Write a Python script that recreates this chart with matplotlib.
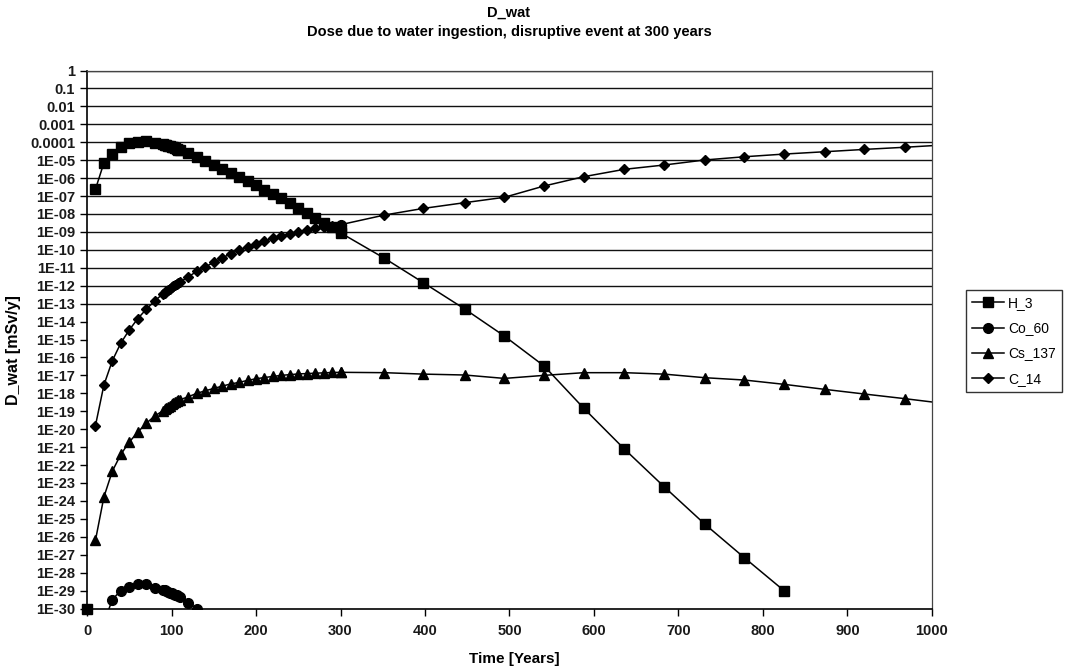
import numpy as np
import matplotlib
matplotlib.use("Agg")
import matplotlib.pyplot as plt
from matplotlib.lines import Line2D

plt.rcParams['font.family'] = ['Liberation Sans', 'DejaVu Sans']

# ---------------- data (dose values as log10 of mSv/y) ----------------
NaN = np.nan
# time points [years]; 300 appears twice (before / after the disruptive event)
time = [0, 10, 20, 30, 40, 50, 60, 70, 80,
        90, 92, 94, 96, 98, 100, 102, 104, 106, 108, 110,
        120, 130, 140, 150, 160, 170, 180, 190, 200, 210, 220, 230, 240, 250,
        260, 270, 280, 290, 300,
        300, 352, 398, 447, 494, 541, 588, 636, 683, 731, 778, 825, 873, 920, 968, 1015]

h3_log = [-30, -6.62, -5.15, -4.63, -4.26, -4.06, -3.97, -3.93, -4.02,
          -4.10, -4.13, -4.16, -4.19, -4.22, -4.26, -4.29, -4.33, -4.37, -4.41, -4.45,
          -4.62, -4.84, -5.06, -5.27, -5.48, -5.70, -5.92, -6.15, -6.40, -6.64, -6.87, -7.12, -7.40, -7.66,
          -7.92, -8.20, -8.48, -8.70, -8.85,
          -9.05, -10.47, -11.83, -13.30, -14.81, -16.48, -18.84, -21.11, -23.21, -25.29, -27.17, -29.01, NaN, NaN, NaN, NaN]

co60_log = [NaN, NaN, -30.8, -29.5, -29.0, -28.8, -28.65, -28.65, -28.85,
            -28.95, -28.99, -29.03, -29.07, -29.11, -29.15, -29.19, -29.23, -29.27, -29.31, -29.36,
            -29.68, -30.0, -30.6, NaN, NaN, NaN, NaN, NaN, NaN, NaN, NaN, NaN, NaN, NaN,
            NaN, NaN, NaN, NaN, -8.62,
            NaN, NaN, NaN, NaN, NaN, NaN, NaN, NaN, NaN, NaN, NaN, NaN, NaN, NaN, NaN, NaN]

cs137_log = [NaN, -26.2, -23.78, -22.34, -21.41, -20.72, -20.17, -19.68, -19.27,
             -18.97, -18.90, -18.83, -18.76, -18.69, -18.62, -18.56, -18.50, -18.45, -18.40, -18.36,
             -18.19, -18.00, -17.86, -17.73, -17.60, -17.48, -17.39, -17.28, -17.19, -17.12, -17.06, -17.00, -16.96, -16.92,
             -16.90, -16.88, -16.86, -16.84, -16.83,
             -16.83, -16.85, -16.93, -16.98, -17.17, -17.00, -16.85, -16.85, -16.93, -17.13, -17.26, -17.50, -17.78, -18.04, -18.30, -18.57]

c14_log = [NaN, -19.8, -17.54, -16.18, -15.20, -14.47, -13.84, -13.32, -12.85,
           -12.45, -12.38, -12.31, -12.24, -12.17, -12.10, -12.04, -11.98, -11.92, -11.86, -11.80,
           -11.50, -11.20, -10.95, -10.70, -10.45, -10.22, -10.00, -9.83, -9.68, -9.51, -9.36, -9.25, -9.12, -8.99,
           -8.88, -8.80, -8.72, -8.66, -8.62,
           -8.60, -8.06, -7.69, -7.37, -7.07, -6.44, -5.92, -5.51, -5.27, -4.99, -4.81, -4.66, -4.53, -4.40, -4.28, -4.15]

series_names = ["H_3", "Co_60", "Cs_137", "C_14"]
x_ticks = list(range(0, 1001, 100))
y_exponents = list(range(0, -31, -1))
grid_exponents = list(range(0, -14, -1))

# ---------------- figure ----------------
W, H = 1067, 670
fig = plt.figure(figsize=(W / 100, H / 100), dpi=100)
ax = fig.add_axes([87 / W, 1 - 608.5 / H, (932 - 87) / W, (608.5 - 70.5) / H])

t = np.array(time, dtype=float)
styles = [dict(marker='s', ms=7), dict(marker='o', ms=7),
          dict(marker='^', ms=7), dict(marker='D', ms=4.8)]
data = [h3_log, co60_log, cs137_log, c14_log]

for name, vals, st in zip(series_names, data, styles):
    v = 10.0 ** np.array(vals, dtype=float)
    if name == "H_3":
        # value at t=0 is plotted at the axis floor without a connecting line
        ax.plot(t[:1], v[:1], linestyle='none', color='black', clip_on=False, **st)
        ax.plot(t[1:], v[1:], color='black', lw=1.1, **st)
    else:
        ax.plot(t, v, color='black', lw=1.1, **st)

for e in grid_exponents:
    ax.axhline(10.0 ** e, color='#111111', lw=1.0, zorder=0.5)

ax.set_yscale('log')
ax.set_ylim(1e-30, 1)
ax.set_xlim(0, 1000)
ax.set_xticks(x_ticks)
ax.set_xticklabels([str(v) for v in x_ticks])


def fmt(e):
    if e >= -4:
        return "1" if e == 0 else "0." + "0" * (-e - 1) + "1"
    return "1E-%02d" % (-e)


ax.yaxis.set_major_locator(matplotlib.ticker.FixedLocator([10.0 ** e for e in y_exponents]))
ax.yaxis.set_minor_locator(matplotlib.ticker.NullLocator())
ax.set_yticklabels([fmt(e) for e in y_exponents])

ax.tick_params(axis='both', direction='out', length=5, width=1, colors='black',
               labelsize=10.5, labelcolor='#1a1a1a')
ax.tick_params(axis='y', pad=3.5)
ax.tick_params(axis='x', pad=6)
for lab in ax.get_xticklabels() + ax.get_yticklabels():
    lab.set_fontweight('bold')
for s in ['left', 'bottom']:
    ax.spines[s].set_linewidth(1.2)
    ax.spines[s].set_color('black')
for s in ['right', 'top']:
    ax.spines[s].set_linewidth(0.9)
    ax.spines[s].set_color('#444444')

fig.text(509 / W, 1 - 13 / H, "D_wat", ha='center', va='center', fontsize=10.5, fontweight='bold')
fig.text(509 / W, 1 - 32 / H, "Dose due to water ingestion, disruptive event at 300 years",
         ha='center', va='center', fontsize=10.5, fontweight='bold')
fig.text(514 / W, 1 - 659 / H, "Time [Years]", ha='center', va='center', fontsize=11, fontweight='bold')
fig.text(14 / W, 1 - 350 / H, "D_wat [mSv/y]", ha='center', va='center', rotation=90,
         fontsize=11.5, fontweight='bold')

handles = [Line2D([0], [0], color='black', lw=1.1, **st) for st in styles]
leg = fig.legend(handles, series_names, loc='upper left', bbox_to_anchor=(966 / W, 1 - 290 / H),
                 frameon=True, fancybox=False, shadow=False, fontsize=10, handlelength=2.3,
                 labelspacing=0.8, borderpad=0.45, handletextpad=0.3, borderaxespad=0)
leg.get_frame().set_edgecolor('black')
leg.get_frame().set_linewidth(1.0)

fig.savefig("out.png", dpi=100)
